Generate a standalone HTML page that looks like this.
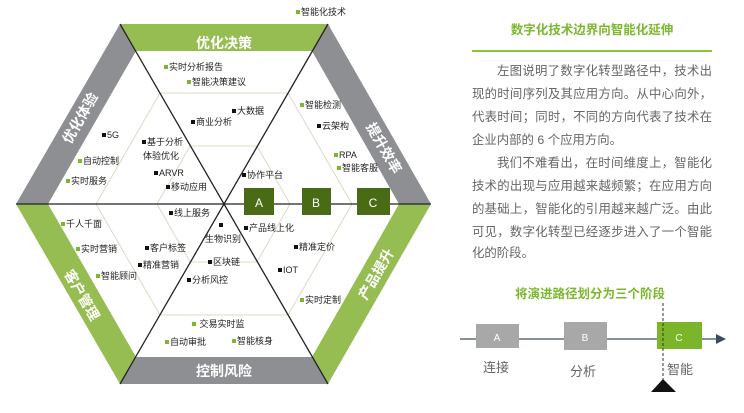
<!DOCTYPE html>
<html><head><meta charset="utf-8"><style>
body{margin:0;width:744px;height:413px;background:#fff;overflow:hidden;position:relative;font-family:"Liberation Sans","Noto Sans CJK SC",sans-serif}
.t{position:absolute;font-size:9px;color:#222;white-space:nowrap;line-height:11px}
.g::before,.b::before{content:"";display:inline-block;width:4px;height:4px;margin-right:1px;vertical-align:1px}
.g::before{background:#7cb82f}.b::before{background:#111}
.bl{position:absolute;color:#fff;font-weight:bold;font-size:14px;white-space:nowrap;line-height:16px}
.p{position:absolute;left:472px;width:240px;font-size:12.4px;color:#666;line-height:23px;text-align:justify;text-align-last:justify;white-space:nowrap}
</style></head><body>
<svg width="744" height="413" style="position:absolute;left:0;top:0">
<polygon points="120,24 328,24 312,51 136,51" fill="#95bd52"/>
<polygon points="328,24 431,204 399,204 312,51" fill="#8e8f93"/>
<polygon points="120,24 136,51 48,204 16,204" fill="#8e8f93"/>
<polygon points="16,204 48,204 136,357 120,384" fill="#95bd52"/>
<polygon points="431,204 328,384 312,357 399,204" fill="#95bd52"/>
<polygon points="120,384 136,357 312,357 328,384" fill="#8e8f93"/>
<g fill="none" stroke="#d8dcc4" stroke-width="1">
<polygon points="160,93 288,93 352,204 288,315 160,315 96,204"/>
<polygon points="190,146 257,146 290,204 257,262 190,262 157,204"/>
</g>
<g stroke="#222" stroke-width="1.3">
<line x1="16" y1="204" x2="431" y2="204"/>
<line x1="120" y1="24" x2="328" y2="384"/>
<line x1="328" y1="24" x2="120" y2="384"/>
</g>
<rect x="244" y="188" width="30" height="27" fill="#4a6b16"/>
<rect x="302" y="188" width="29" height="27" fill="#4a6b16"/>
<rect x="357" y="188" width="33" height="27" fill="#4a6b16"/>
<text x="259" y="207" fill="#fff" font-size="12" text-anchor="middle" font-family="Liberation Sans">A</text>
<text x="316" y="207" fill="#fff" font-size="12" text-anchor="middle" font-family="Liberation Sans">B</text>
<text x="373" y="207" fill="#fff" font-size="12" text-anchor="middle" font-family="Liberation Sans">C</text>
<line x1="472" y1="51" x2="712" y2="51" stroke="#8cc43c" stroke-width="2"/>
<line x1="460" y1="339" x2="718" y2="339" stroke="#5b6a82" stroke-width="1.5"/>
<polygon points="726,339 716,334 716,344" fill="#3d4a60"/>
<rect x="476" y="324" width="43" height="24" fill="#a8a8a8"/>
<rect x="564" y="322" width="43" height="28" fill="#a8a8a8"/>
<rect x="657" y="322" width="45" height="27" fill="#7ab52a"/>
<text x="497" y="341" fill="#fff" font-size="10" text-anchor="middle" font-family="Liberation Sans">A</text>
<text x="585" y="341" fill="#fff" font-size="10" text-anchor="middle" font-family="Liberation Sans">B</text>
<text x="679" y="341" fill="#fff" font-size="10" text-anchor="middle" font-family="Liberation Sans">C</text>
<line x1="663" y1="303" x2="663" y2="382" stroke="#333" stroke-width="1" stroke-dasharray="3,2"/>
<polygon points="663,379 651,392 676,392" fill="#111"/>
</svg>
<div class="bl" style="left:224px;top:35px;transform:translateX(-50%)">优化决策</div>
<div class="bl" style="left:224px;top:363px;transform:translateX(-50%)">控制风险</div>
<div class="bl" style="left:80px;top:118px;transform:translate(-50%,-50%) rotate(-60deg)">优化体验</div>
<div class="bl" style="left:384px;top:148px;transform:translate(-50%,-50%) rotate(60deg)">提升效率</div>
<div class="bl" style="left:82px;top:295px;transform:translate(-50%,-50%) rotate(60deg)">客户管理</div>
<div class="bl" style="left:376px;top:274px;transform:translate(-50%,-50%) rotate(-60deg)">产品提升</div>

<div class="t g" style="left:296px;top:7px">智能化技术</div>
<div class="t g" style="left:164px;top:62px">实时分析报告</div>
<div class="t g" style="left:187px;top:77px">智能决策建议</div>
<div class="t b" style="left:232px;top:106px">大数据</div>
<div class="t b" style="left:191px;top:117px">商业分析</div>
<div class="t b" style="left:102px;top:130px">5G</div>
<div class="t b" style="left:142px;top:137px">基于分析</div>
<div class="t" style="left:143px;top:151px">体验优化</div>
<div class="t g" style="left:78px;top:156px">自动控制</div>
<div class="t g" style="left:66px;top:176px">实时服务</div>
<div class="t b" style="left:154px;top:168px">ARVR</div>
<div class="t b" style="left:166px;top:182px">移动应用</div>
<div class="t b" style="left:242px;top:170px">协作平台</div>
<div class="t g" style="left:300px;top:100px">智能检测</div>
<div class="t b" style="left:317px;top:121px">云架构</div>
<div class="t g" style="left:334px;top:150px">RPA</div>
<div class="t g" style="left:337px;top:163px">智能客服</div>
<div class="t b" style="left:169px;top:208px">线上服务</div>
<div class="t g" style="left:61px;top:219px">千人千面</div>
<div class="t g" style="left:76px;top:244px">实时营销</div>
<div class="t g" style="left:96px;top:271px">智能顾问</div>
<div class="t b" style="left:145px;top:243px">客户标签</div>
<div class="t b" style="left:138px;top:260px">精准营销</div>
<div class="t b" style="left:219px;top:220px"></div>
<div class="t" style="left:205px;top:234px">生物识别</div>
<div class="t b" style="left:244px;top:223px">产品线上化</div>
<div class="t b" style="left:294px;top:242px">精准定价</div>
<div class="t b" style="left:208px;top:257px">区块链</div>
<div class="t b" style="left:278px;top:265px">IOT</div>
<div class="t b" style="left:187px;top:275px">分析风控</div>
<div class="t g" style="left:300px;top:295px">实时定制</div>
<div class="t g" style="left:192px;top:319px">&nbsp;交易实时监</div>
<div class="t g" style="left:165px;top:337px">自动审批</div>
<div class="t g" style="left:232px;top:336px">智能核身</div>

<div style="position:absolute;left:472px;width:240px;top:19px;text-align:center;color:#7cb82f;font-weight:bold;font-size:12.5px">数字化技术边界向智能化延伸</div>
<div class="p" style="top:60px;padding-left:25px;width:215px">左图说明了数字化转型路径中，技术出</div>
<div class="p" style="top:83px">现的时间序列及其应用方向。从中心向外，</div>
<div class="p" style="top:106px">代表时间；同时，不同的方向代表了技术在</div>
<div class="p" style="top:129px;text-align-last:left">企业内部的 6 个应用方向。</div>
<div class="p" style="top:152px;padding-left:25px;width:215px">我们不难看出，在时间维度上，智能化</div>
<div class="p" style="top:175px">技术的出现与应用越来越频繁；在应用方向</div>
<div class="p" style="top:198px">的基础上，智能化的引用越来越广泛。由此</div>
<div class="p" style="top:221px">可见，数字化转型已经逐步进入了一个智能</div>
<div class="p" style="top:242px;text-align-last:left">化的阶段。</div>
<div style="position:absolute;left:472px;width:236px;top:283px;text-align:center;color:#7cb82f;font-weight:bold;font-size:12.5px">将演进路径划分为三个阶段</div>
<div style="position:absolute;left:483px;top:357px;font-size:13px;color:#666">连接</div>
<div style="position:absolute;left:570px;top:361px;font-size:13px;color:#666">分析</div>
<div style="position:absolute;left:667px;top:359px;font-size:13px;color:#666">智能</div>
</body></html>
